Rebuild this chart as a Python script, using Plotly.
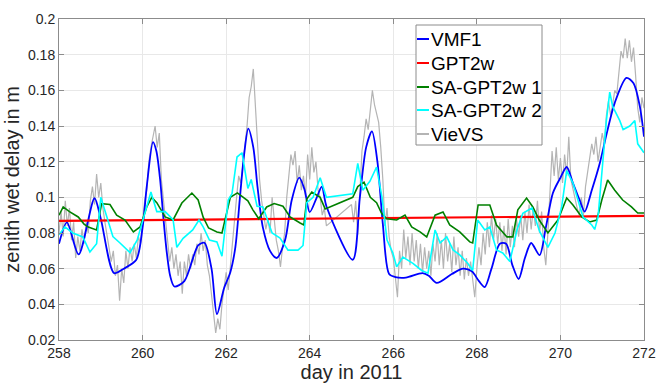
import numpy as np
import plotly.graph_objects as go

# --- VMF1 zenith wet delay (m) ---
vmf1_day = [258.00, 258.19, 258.47, 258.85, 259.00, 259.32, 259.55, 259.85, 260.00, 260.10,
            260.25, 260.33, 260.42, 260.50, 260.58, 260.66, 260.76, 261.00, 261.33, 261.48,
            261.65, 261.78, 261.95, 262.10, 262.22, 262.33, 262.43, 262.53, 262.65, 262.75,
            262.88, 263.05, 263.21, 263.41, 263.57, 263.75, 263.88, 264.00, 264.17, 264.29,
            264.40, 265.03,
            265.20, 265.35, 265.49, 265.62, 265.75, 265.90, 266.05, 266.30, 266.70, 266.85,
            267.04, 267.40, 267.67, 267.88, 268.05, 268.19, 268.35, 268.55, 268.70, 268.85,
            269.00, 269.15, 269.30, 269.50, 269.65, 269.82, 270.00, 270.15, 270.30, 270.46,
            270.58, 270.75, 270.94, 271.11, 271.30, 271.58, 271.75, 271.90, 272.00]
vmf1_zwd = [0.074, 0.086, 0.068, 0.0995, 0.088, 0.0575, 0.060, 0.065, 0.083, 0.106,
            0.131, 0.126, 0.110, 0.088, 0.069, 0.056, 0.050, 0.053, 0.073, 0.0745,
            0.060, 0.0345, 0.049, 0.058, 0.072, 0.100, 0.124, 0.1385, 0.128, 0.106,
            0.083, 0.070, 0.066, 0.076, 0.0985, 0.111, 0.104, 0.0917, 0.100, 0.106,
            0.095, 0.065,
            0.100, 0.128, 0.137, 0.120, 0.085, 0.057, 0.0553, 0.055, 0.0575, 0.056,
            0.052, 0.057, 0.060, 0.0585, 0.053, 0.0497, 0.060, 0.0740, 0.074, 0.062,
            0.0542, 0.066, 0.0744, 0.0676, 0.083, 0.1024, 0.111, 0.117, 0.108, 0.0985,
            0.092, 0.104, 0.119, 0.136, 0.153, 0.167, 0.164, 0.151, 0.134]

# --- GPT2w zenith wet delay (m), daily ---
gpt2w_day = [258, 259, 260, 261, 262, 263, 264, 265, 266, 267, 268, 269, 270, 271, 272]
gpt2w_zwd = [0.0868, 0.0870, 0.0872, 0.0874, 0.0876, 0.0878, 0.0880, 0.0882,
             0.0884, 0.0886, 0.0888, 0.0890, 0.0892, 0.0894, 0.0896]

# --- SA-GPT2w 1 ---
sa1_day = [258.00, 258.10, 258.25, 258.46, 258.60, 258.70, 258.90, 259.02, 259.22, 259.38,
           259.58, 259.78, 259.94, 260.10, 260.22, 260.34, 260.54, 260.73, 260.94, 261.18,
           261.33, 261.45, 261.58, 261.78, 261.90, 262.00, 262.10, 262.27, 262.40, 262.52,
           262.64, 262.78, 262.97, 263.15, 263.36, 263.53, 263.77, 263.86, 263.93, 264.05,
           264.25, 264.37, 265.03, 265.15, 265.30, 265.45, 265.60, 265.72, 265.84, 266.08,
           266.28, 266.44, 266.64, 266.80, 267.00, 267.19, 267.35, 267.59, 267.83, 267.90,
           268.03, 268.31, 268.47, 268.72, 268.86, 268.98, 269.19, 269.34, 269.50, 269.70,
           269.94, 270.15, 270.30, 270.51, 270.70, 270.87, 270.99, 271.13, 271.30, 271.49,
           271.70, 271.85, 272.00]
sa1_zwd = [0.090, 0.0946, 0.092, 0.089, 0.085, 0.0833, 0.0817, 0.0965, 0.096, 0.090,
           0.0873, 0.0806, 0.0834, 0.0946, 0.100, 0.097, 0.089, 0.0873, 0.0968, 0.1024,
           0.0985, 0.0889, 0.0828, 0.0806, 0.080, 0.091, 0.100, 0.1025, 0.100, 0.098,
           0.093, 0.088, 0.0946, 0.0965, 0.095, 0.089, 0.0856, 0.0845, 0.099, 0.103,
           0.100, 0.0935, 0.100, 0.106, 0.1085, 0.100, 0.097, 0.091, 0.088, 0.0873,
           0.090, 0.0834, 0.0806, 0.0778, 0.090, 0.0918, 0.0845, 0.0806, 0.075, 0.0744,
           0.0957, 0.0957, 0.0845, 0.0778, 0.0778, 0.093, 0.0996, 0.0946, 0.0870, 0.080,
           0.0873, 0.0996, 0.0957, 0.089, 0.0862, 0.0873, 0.0985, 0.1097, 0.104, 0.0985,
           0.0946, 0.0912, 0.0912]

# --- SA-GPT2w 2 ---
sa2_day = [258.00, 258.14, 258.33, 258.57, 258.74, 258.90, 259.00, 259.10, 259.29, 259.46,
           259.70, 259.87, 260.00, 260.20, 260.34, 260.54, 260.73, 260.82, 260.97, 261.20,
           261.35, 261.45, 261.60, 261.78, 261.90, 262.05, 262.14, 262.26, 262.38, 262.45,
           262.52, 262.60, 262.74, 262.88, 263.10, 263.29, 263.48, 263.72, 263.84, 263.93,
           264.08, 264.25, 264.40, 265.03, 265.15, 265.27, 265.44, 265.60, 265.73, 265.85,
           265.99, 266.08, 266.23, 266.47, 266.68, 266.83, 267.00, 267.12, 267.28, 267.43,
           267.59, 267.78, 267.90, 268.02, 268.19, 268.31, 268.47, 268.62, 268.79, 268.96,
           269.10, 269.32, 269.50, 269.70, 269.87, 270.03, 270.15, 270.30, 270.42, 270.54,
           270.75, 270.82, 270.90, 271.10, 271.18, 271.25, 271.42, 271.50, 271.66, 271.78,
           271.85, 272.00]
sa2_zwd = [0.079, 0.0834, 0.080, 0.0778, 0.0693, 0.074, 0.100, 0.092, 0.078, 0.0744,
           0.069, 0.076, 0.087, 0.103, 0.092, 0.092, 0.0875, 0.072, 0.077, 0.0817,
           0.0873, 0.0834, 0.076, 0.075, 0.067, 0.0985, 0.102, 0.1226, 0.125, 0.115,
           0.105, 0.110, 0.095, 0.0946, 0.080, 0.0772, 0.0704, 0.0704, 0.073, 0.097,
           0.100, 0.111, 0.100, 0.102, 0.119, 0.104, 0.109, 0.117, 0.100, 0.076,
           0.0688, 0.061, 0.0665, 0.063, 0.059, 0.0575, 0.0817, 0.0744, 0.0778, 0.0705,
           0.0677, 0.063, 0.059, 0.0873, 0.0817, 0.0834, 0.0705, 0.0688, 0.064, 0.0817,
           0.091, 0.094, 0.081, 0.072, 0.080, 0.0946, 0.115, 0.108, 0.0985, 0.089,
           0.0845, 0.082, 0.089, 0.143, 0.159, 0.151, 0.143, 0.138, 0.140, 0.143,
           0.130, 0.125]

# --- VieVS estimates, sampled every 0.05 d (no data between 264.40 and 265.00) ---
vievs_zwd = [
    # 258
    0.080, 0.092, 0.078, 0.098, 0.084, 0.094, 0.076, 0.086, 0.066, 0.078,
    0.070, 0.082, 0.074, 0.086, 0.080, 0.098, 0.106, 0.096, 0.113, 0.100,
    # 259
    0.108, 0.094, 0.086, 0.078, 0.072, 0.064, 0.070, 0.056, 0.062, 0.042,
    0.060, 0.052, 0.070, 0.060, 0.072, 0.064, 0.074, 0.066, 0.078, 0.074,
    # 260
    0.086, 0.098, 0.104, 0.120, 0.128, 0.134, 0.140, 0.128, 0.136, 0.110,
    0.098, 0.084, 0.074, 0.064, 0.072, 0.060, 0.068, 0.056, 0.064, 0.046,
    # 261
    0.064, 0.056, 0.068, 0.060, 0.068, 0.062, 0.074, 0.068, 0.080, 0.070,
    0.076, 0.062, 0.056, 0.044, 0.036, 0.024, 0.032, 0.026, 0.040, 0.050,
    # 262
    0.058, 0.048, 0.062, 0.074, 0.090, 0.100, 0.112, 0.108, 0.118, 0.128,
    0.140, 0.156, 0.162, 0.172, 0.150, 0.128, 0.110, 0.098, 0.090, 0.082,
    # 263
    0.088, 0.080, 0.100, 0.086, 0.076, 0.070, 0.061, 0.072, 0.080, 0.100,
    0.112, 0.124, 0.118, 0.126, 0.108, 0.118, 0.104, 0.112, 0.100, 0.124,
    # 264
    0.110, 0.128, 0.114, 0.120, 0.104, 0.100, 0.090, 0.094, 0.084,
    # 265
    0.096, 0.086, 0.098, 0.079, 0.104, 0.126, 0.134, 0.144, 0.138, 0.150,
    0.160, 0.152, 0.146, 0.142, 0.128, 0.110, 0.084, 0.094, 0.078, 0.070,
    # 266
    0.066, 0.056, 0.044, 0.070, 0.060, 0.082, 0.066, 0.078, 0.062, 0.080,
    0.064, 0.076, 0.060, 0.074, 0.058, 0.072, 0.060, 0.070, 0.056, 0.074,
    # 267
    0.064, 0.080, 0.062, 0.076, 0.060, 0.080, 0.064, 0.074, 0.058, 0.078,
    0.062, 0.072, 0.056, 0.070, 0.054, 0.066, 0.056, 0.064, 0.052, 0.044,
    # 268
    0.060, 0.072, 0.062, 0.080, 0.068, 0.086, 0.072, 0.090, 0.076, 0.088,
    0.074, 0.086, 0.070, 0.084, 0.068, 0.088, 0.072, 0.084, 0.072, 0.088,
    # 269
    0.078, 0.090, 0.076, 0.092, 0.080, 0.096, 0.082, 0.094, 0.084, 0.098,
    0.080, 0.092, 0.072, 0.062, 0.080, 0.104, 0.126, 0.112, 0.128, 0.110,
    # 270
    0.122, 0.108, 0.124, 0.112, 0.134, 0.110, 0.104, 0.098, 0.094, 0.090,
    0.100, 0.090, 0.106, 0.114, 0.122, 0.130, 0.124, 0.134, 0.120, 0.128,
    # 271
    0.136, 0.130, 0.146, 0.154, 0.146, 0.152, 0.160, 0.158, 0.170, 0.182,
    0.178, 0.189, 0.178, 0.188, 0.176, 0.184, 0.168, 0.150, 0.142, 0.156,
    # 272
    0.150,
]
vievs_day = np.concatenate([
    np.round(np.arange(258.0, 264.401, 0.05), 2),
    np.round(np.arange(265.0, 272.001, 0.05), 2),
])

series_names = ["VMF1", "GPT2w", "SA-GPT2w 1", "SA-GPT2w 2", "VieVS"]
series_colors = ["#0000ff", "#ff0000", "#008000", "#00ffff", "#b4b4b4"]

FONT = "Liberation Sans, Arial, sans-serif"

fig = go.Figure()

fig.add_trace(go.Scatter(x=vievs_day, y=vievs_zwd, mode="lines", name="VieVS",
                         line=dict(color=series_colors[4], width=1.2)))
fig.add_trace(go.Scatter(x=vmf1_day, y=vmf1_zwd, mode="lines", name="VMF1",
                         line=dict(color=series_colors[0], width=1.8, shape="spline",
                                   smoothing=0.8)))
fig.add_trace(go.Scatter(x=gpt2w_day, y=gpt2w_zwd, mode="lines", name="GPT2w",
                         line=dict(color=series_colors[1], width=2.2)))
fig.add_trace(go.Scatter(x=sa1_day, y=sa1_zwd, mode="lines", name="SA-GPT2w 1",
                         line=dict(color=series_colors[2], width=1.6)))
fig.add_trace(go.Scatter(x=sa2_day, y=sa2_zwd, mode="lines", name="SA-GPT2w 2",
                         line=dict(color=series_colors[3], width=1.6)))

axis_common = dict(
    showline=True, linecolor="#8c8c8c", linewidth=1, mirror="ticks",
    ticks="inside", ticklen=5, tickcolor="#8c8c8c",
    showgrid=True, gridcolor="#e8e8e8", gridwidth=1, zeroline=False,
    tickfont=dict(family=FONT, size=14, color="#262626"),
    automargin=False,
)

fig.update_xaxes(range=[258, 272], dtick=2, tick0=258,
                 title=dict(text="day in 2011", standoff=4,
                            font=dict(family=FONT, size=20, color="#262626")),
                 **axis_common)
fig.update_yaxes(range=[0.02, 0.2], dtick=0.02, tick0=0.02,
                 title=dict(text="zenith wet delay in m", standoff=2,
                            font=dict(family=FONT, size=20, color="#262626")),
                 **axis_common)

# Plot area in pixels: x 59..644, y 19..340
L, R, T, B = 59, 644, 19, 340


def fx(p):
    return (p - L) / (R - L)


def fy(p):
    return (B - p) / (B - T)


# Legend box with short line samples
shapes = [dict(type="rect", xref="paper", yref="paper",
               x0=fx(416), x1=fx(542), y0=fy(145), y1=fy(25),
               line=dict(color="#8c8c8c", width=1), fillcolor="white", layer="above")]
annotations = []
row_y = [39, 63, 87, 110, 134]
for name, color, ry in zip(series_names, series_colors, row_y):
    shapes.append(dict(type="line", xref="paper", yref="paper",
                       x0=fx(417), x1=fx(429), y0=fy(ry), y1=fy(ry),
                       line=dict(color=color, width=2), layer="above"))
    annotations.append(dict(xref="paper", yref="paper", x=fx(429), y=fy(ry),
                            xanchor="left", yanchor="middle", showarrow=False,
                            text=name, font=dict(family=FONT, size=19, color="#000000")))

fig.update_layout(
    width=656, height=385,
    margin=dict(l=L, r=656 - R, t=T, b=385 - B),
    paper_bgcolor="white", plot_bgcolor="white",
    showlegend=False,
    shapes=shapes, annotations=annotations,
)

fig.write_html("out.html")
